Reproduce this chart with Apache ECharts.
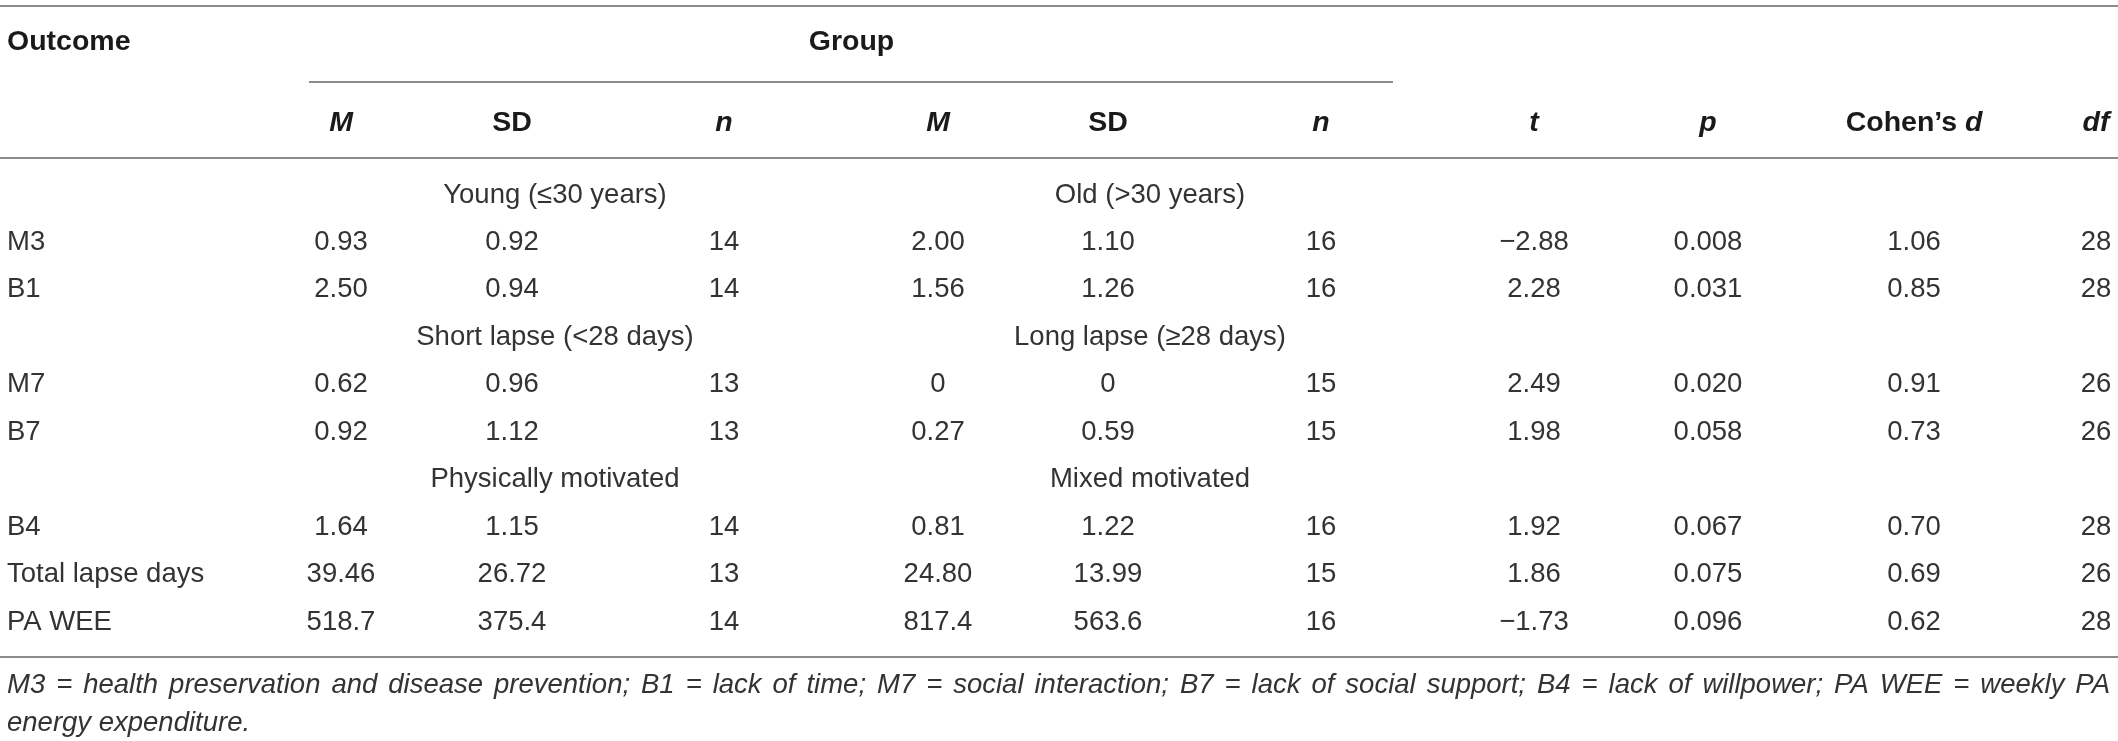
<!DOCTYPE html>
<html>
<head>
<meta charset="utf-8">
<title>Group comparison table</title>
<script src="https://cdn.jsdelivr.net/npm/echarts@6/dist/echarts.min.js"></script>
<style>
  html, body { margin: 0; padding: 0; background: #fff; }
  #main { width: 2118px; height: 741px; }
</style>
</head>
<body>
<div id="main"></div>
<script>
// table data
var outcomes = ['M3', 'B1', 'M7', 'B7', 'B4', 'Total lapse days', 'PA WEE'];
var blockSizes = [2, 2, 3];
var groupA = ['Young (\u226430 years)', 'Short lapse (<28 days)', 'Physically motivated'];
var groupB = ['Old (>30 years)', 'Long lapse (\u226528 days)', 'Mixed motivated'];
var meanA = ['0.93', '2.50', '0.62', '0.92', '1.64', '39.46', '518.7'];
var sdA = ['0.92', '0.94', '0.96', '1.12', '1.15', '26.72', '375.4'];
var nA = ['14', '14', '13', '13', '14', '13', '14'];
var meanB = ['2.00', '1.56', '0', '0.27', '0.81', '24.80', '817.4'];
var sdB = ['1.10', '1.26', '0', '0.59', '1.22', '13.99', '563.6'];
var nB = ['16', '16', '15', '15', '16', '15', '16'];
var tVals = ['\u22122.88', '2.28', '2.49', '1.98', '1.92', '1.86', '\u22121.73'];
var pVals = ['0.008', '0.031', '0.020', '0.058', '0.067', '0.075', '0.096'];
var dVals = ['1.06', '0.85', '0.91', '0.73', '0.70', '0.69', '0.62'];
var dfVals = ['28', '28', '26', '26', '28', '26', '28'];
var colHeads = ['{bi|M}', '{b|SD}', '{bi|n}', '{bi|M}', '{b|SD}', '{bi|n}',
  '{bi|t}', '{bi|p}', '{b|Cohen\u2019s }{bi|d}', '{bi|df}'];
var footnote = [
  'M3 = health preservation and disease prevention; B1 = lack of time; M7 = social interaction; B7 = lack of social support; B4 = lack of willpower; PA WEE = weekly PA',
  'energy expenditure.'
];

// layout (x in px, y in row units)
var colX = [341, 512, 724, 938, 1108, 1321, 1534, 1708, 1914, 2096];
var groupX = [555, 1150];
var leftX = 7, rightX = 2110;
var rowPx = 47.44, firstRowPx = 195;
var headRow1 = -3.225, headRow2 = -1.518;
var noteRows = [10.33, 11.13];
var rules = [
  [0, 2118, -3.984],
  [309, 1393, -2.382],
  [0, 2118, -0.780],
  [0, 2118, 9.739]
];

var FONT = 'Liberation Sans, Arial, Helvetica, sans-serif';
var INK = '#333333';
var HEAD_INK = '#1a1a1a';
var SIZE = 27.5, HEAD_SIZE = 28.5;

var cells = [];
function cell(x, y, text, kind, align) {
  cells.push({ x: x, y: y, text: text, kind: kind || 'body', align: align || 'center' });
}

cell(leftX, headRow1, 'Outcome', 'bold', 'left');
cell((groupX[0] + groupX[1]) / 2 - 1, headRow1, 'Group', 'bold');
colHeads.forEach(function (h, i) { cell(colX[i], headRow2, h, 'rich'); });

var cols = [meanA, sdA, nA, meanB, sdB, nB, tVals, pVals, dVals, dfVals];
var row = 0, k = 0;
blockSizes.forEach(function (size, b) {
  cell(groupX[0], row, groupA[b]);
  cell(groupX[1], row, groupB[b]);
  row++;
  for (var j = 0; j < size; j++, k++, row++) {
    cell(leftX, row, outcomes[k], 'body', 'left');
    cols.forEach(function (c, i) { cell(colX[i], row, c[k]); });
  }
});

// footnote: first line justified across the table width, last line left
var ctx = document.createElement('canvas').getContext('2d');
ctx.font = 'italic ' + SIZE + 'px "Liberation Sans"';
footnote.forEach(function (line, i) {
  if (i === footnote.length - 1) {
    cell(leftX, noteRows[i], line, 'note', 'left');
    return;
  }
  var words = line.split(' ');
  var widths = words.map(function (w) { return ctx.measureText(w).width; });
  var total = widths.reduce(function (a, b) { return a + b; }, 0);
  var gap = (rightX - leftX - total) / (words.length - 1);
  var x = leftX;
  words.forEach(function (w, j) {
    cell(x, noteRows[i], w, 'note', 'left');
    x += widths[j] + gap;
  });
});

var yMin = -firstRowPx / rowPx;
var yMax = yMin + 741 / rowPx;

var chart = echarts.init(document.getElementById('main'), null, { renderer: 'canvas' });

chart.setOption({
  animation: false,
  backgroundColor: '#ffffff',
  grid: { left: 0, right: 0, top: 0, bottom: 0 },
  xAxis: { type: 'value', min: 0, max: 2118, show: false },
  yAxis: { type: 'value', min: yMin, max: yMax, inverse: true, show: false },
  series: [
    {
      type: 'custom',
      silent: true,
      data: rules,
      renderItem: function (params, api) {
        var a = api.coord([api.value(0), api.value(2)]);
        var b = api.coord([api.value(1), api.value(2)]);
        return {
          type: 'line',
          shape: { x1: a[0], y1: a[1], x2: b[0], y2: b[1] },
          style: { stroke: '#8c8c8c', lineWidth: 2 }
        };
      }
    },
    {
      type: 'custom',
      silent: true,
      data: cells.map(function (c) { return [c.x, c.y]; }),
      renderItem: function (params, api) {
        var c = cells[params.dataIndex];
        var pt = api.coord([api.value(0), api.value(1)]);
        var head = c.kind === 'bold' || c.kind === 'rich';
        var style = {
          text: c.text,
          fill: head ? HEAD_INK : INK,
          fontFamily: FONT,
          fontSize: head ? HEAD_SIZE : SIZE,
          fontWeight: c.kind === 'bold' ? 'bold' : 'normal',
          fontStyle: c.kind === 'note' ? 'italic' : 'normal',
          align: c.align,
          verticalAlign: 'middle'
        };
        if (c.kind === 'rich') {
          style.rich = {
            b: { fontFamily: FONT, fontSize: HEAD_SIZE, fontWeight: 'bold', fill: HEAD_INK },
            bi: { fontFamily: FONT, fontSize: HEAD_SIZE, fontWeight: 'bold', fontStyle: 'italic', fill: HEAD_INK }
          };
        }
        return { type: 'text', x: pt[0], y: pt[1], style: style };
      }
    }
  ]
});

window.addEventListener('resize', function () { chart.resize(); });
</script>
</body>
</html>
